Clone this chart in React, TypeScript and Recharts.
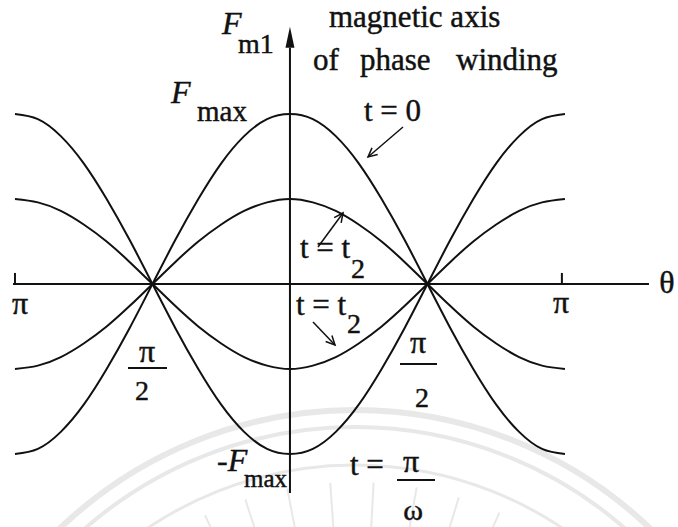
import React from "react";
import { Line, LineChart, ReferenceDot, ReferenceLine, XAxis, YAxis } from "recharts";

// electrical angle θ in degrees, -π .. π
const THETA = [
  -180, -165, -150, -135, -120, -105, -90, -75, -60, -45, -30, -15, 0, 15, 30, 45, 60, 75,
  90, 105, 120, 135, 150, 165, 180,
];

// pulsating mmf of one phase winding, per unit of F_max
const MMF_T0 = [
  -1, -0.97, -0.87, -0.71, -0.5, -0.26, 0, 0.26, 0.5, 0.71, 0.87, 0.97, 1, 0.97, 0.87, 0.71,
  0.5, 0.26, 0, -0.26, -0.5, -0.71, -0.87, -0.97, -1,
];
const MMF_T2_POS = [
  -0.5, -0.48, -0.43, -0.35, -0.25, -0.13, 0, 0.13, 0.25, 0.35, 0.43, 0.48, 0.5, 0.48, 0.43,
  0.35, 0.25, 0.13, 0, -0.13, -0.25, -0.35, -0.43, -0.48, -0.5,
];
const MMF_T2_NEG = [
  0.5, 0.48, 0.43, 0.35, 0.25, 0.13, 0, -0.13, -0.25, -0.35, -0.43, -0.48, -0.5, -0.48, -0.43,
  -0.35, -0.25, -0.13, 0, 0.13, 0.25, 0.35, 0.43, 0.48, 0.5,
];
const MMF_T_HALF = [
  1, 0.97, 0.87, 0.71, 0.5, 0.26, 0, -0.26, -0.5, -0.71, -0.87, -0.97, -1, -0.97, -0.87, -0.71,
  -0.5, -0.26, 0, 0.26, 0.5, 0.71, 0.87, 0.97, 1,
];

const rows = THETA.map((theta, i) => ({
  theta,
  t0: MMF_T0[i],
  t2a: MMF_T2_POS[i],
  t2b: MMF_T2_NEG[i],
  th: MMF_T_HALF[i],
}));

const W = 678;
const H = 527;
const SERIF = "'Liberation Serif', 'Times New Roman', serif";
const INK = "#111";

type TProps = {
  x: number;
  y: number;
  size: number;
  italic?: boolean;
  anchor?: "start" | "middle" | "end";
  children: React.ReactNode;
};

function T({ x, y, size, italic, anchor = "start", children }: TProps) {
  return (
    <text
      x={x}
      y={y}
      textAnchor={anchor}
      fill={INK}
      stroke={INK}
      strokeWidth={0.45}
      fontFamily={SERIF}
      fontSize={size}
      fontStyle={italic ? "italic" : "normal"}
    >
      {children}
    </text>
  );
}

// faint seal printed behind the figure
function Watermark() {
  const cx = 355;
  const cy = 837;
  const rays = [-40, -32, -25, -18, -11, -4, 3, 10, 17, 24, 31, 38];
  return (
    <svg width={W} height={H} style={{ position: "absolute", left: 0, top: 0 }}>
      <g stroke="#e8e8e8" fill="none">
        <circle cx={cx} cy={cy} r={427} strokeWidth={6} />
        <circle cx={cx} cy={cy} r={410} strokeWidth={4} />
        <circle cx={cx} cy={cy} r={372} strokeWidth={3} />
        {rays.map((a) => {
          const r = (a * Math.PI) / 180;
          return (
            <line
              key={a}
              x1={cx + Math.sin(r) * 290}
              y1={cy - Math.cos(r) * 290}
              x2={cx + Math.sin(r) * 355}
              y2={cy - Math.cos(r) * 355}
              strokeWidth={2}
            />
          );
        })}
      </g>
    </svg>
  );
}

function Arrow({ x1, y1, x2, y2 }: { x1: number; y1: number; x2: number; y2: number }) {
  const a = Math.atan2(y2 - y1, x2 - x1);
  const h = 10;
  const s = 0.45;
  return (
    <g stroke={INK} strokeWidth={1.5} fill="none">
      <line x1={x1} y1={y1} x2={x2} y2={y2} />
      <polyline
        points={`${x2 - h * Math.cos(a - s)},${y2 - h * Math.sin(a - s)} ${x2},${y2} ${
          x2 - h * Math.cos(a + s)
        },${y2 - h * Math.sin(a + s)}`}
      />
    </g>
  );
}

function Labels() {
  return (
    <svg width={W} height={H} style={{ position: "absolute", left: 0, top: 0, pointerEvents: "none" }}>
      <T x={222} y={34} size={32} italic>F</T>
      <T x={238} y={53} size={28}>m1</T>
      <T x={329} y={27} size={31}>magnetic axis</T>
      <T x={313} y={70} size={31}>of</T>
      <T x={360} y={70} size={31}>phase</T>
      <T x={456} y={70} size={31}>winding</T>

      <T x={171} y={103} size={32} italic>F</T>
      <T x={197} y={121} size={29}>max</T>

      <T x={364} y={121} size={31}>t = 0</T>
      <Arrow x1={403} y1={127} x2={368} y2={157} />

      <T x={300} y={258} size={31}>t = t</T>
      <T x={351} y={278} size={28}>2</T>
      <Arrow x1={318} y1={247} x2={343} y2={213} />

      <T x={296} y={315} size={31}>t = t</T>
      <T x={347} y={333} size={28}>2</T>
      <Arrow x1={313} y1={322} x2={335} y2={345} />

      <T x={20} y={314} size={32} anchor="middle">π</T>
      <T x={561} y={313} size={32} anchor="middle">π</T>
      <T x={667} y={293} size={32} anchor="middle">θ</T>

      <T x={147} y={362} size={32} anchor="middle">π</T>
      <line x1={128} y1={368} x2={167} y2={368} stroke={INK} strokeWidth={2} />
      <T x={142} y={400} size={28} anchor="middle">2</T>

      <T x={418} y={353} size={32} anchor="middle">π</T>
      <line x1={400} y1={364} x2={437} y2={364} stroke={INK} strokeWidth={2} />
      <T x={422} y={407} size={28} anchor="middle">2</T>

      <T x={217} y={471} size={32}>
        -<tspan fontStyle="italic">F</tspan>
      </T>
      <T x={244} y={487} size={25}>max</T>

      <T x={350} y={475} size={31}>t =</T>
      <T x={411} y={472} size={32} anchor="middle">π</T>
      <line x1={397} y1={480} x2={435} y2={480} stroke={INK} strokeWidth={2} />
      <T x={413} y={520} size={30} anchor="middle">ω</T>
    </svg>
  );
}

export default function App() {
  return (
    <div style={{ position: "absolute", left: 0, top: 0, width: W, height: H, background: "#fff" }}>
      <Watermark />
      <div style={{ position: "absolute", left: 0, top: 0 }}>
        <LineChart width={W} height={H} data={rows} margin={{ top: 0, right: 0, bottom: 0, left: 0 }}>
          <XAxis dataKey="theta" type="number" domain={[-189.8, 254]} hide allowDataOverflow />
          <YAxis type="number" domain={[-1.4294, 1.6706]} hide allowDataOverflow />

          {/* θ axis with the ±π ticks */}
          <ReferenceLine
            segment={[{ x: -181.3, y: 0 }, { x: 235, y: 0 }]}
            stroke={INK}
            strokeWidth={2}
            ifOverflow="visible"
          />
          <ReferenceLine segment={[{ x: -180, y: 0 }, { x: -180, y: 0.065 }]} stroke={INK} strokeWidth={2} />
          <ReferenceLine segment={[{ x: 178, y: 0 }, { x: 178, y: 0.065 }]} stroke={INK} strokeWidth={2} />

          {/* magnetic axis of the phase winding */}
          <ReferenceLine
            segment={[{ x: 0, y: 1.39 }, { x: 0, y: -1.23 }]}
            stroke={INK}
            strokeWidth={2}
            ifOverflow="visible"
          />
          <ReferenceDot
            x={0}
            y={1.39}
            ifOverflow="visible"
            shape={(p: { cx?: number; cy?: number }) => (
              <path
                d={`M${p.cx} ${(p.cy ?? 0) - 21} L${(p.cx ?? 0) - 4.5} ${p.cy} L${(p.cx ?? 0) + 4.5} ${p.cy} Z`}
                fill={INK}
              />
            )}
          />

          <Line dataKey="t0" type="natural" stroke={INK} strokeWidth={2} dot={false} activeDot={false} isAnimationActive={false} />
          <Line dataKey="t2a" type="natural" stroke={INK} strokeWidth={2} dot={false} activeDot={false} isAnimationActive={false} />
          <Line dataKey="t2b" type="natural" stroke={INK} strokeWidth={2} dot={false} activeDot={false} isAnimationActive={false} />
          <Line dataKey="th" type="natural" stroke={INK} strokeWidth={2} dot={false} activeDot={false} isAnimationActive={false} />
        </LineChart>
      </div>
      <Labels />
    </div>
  );
}
